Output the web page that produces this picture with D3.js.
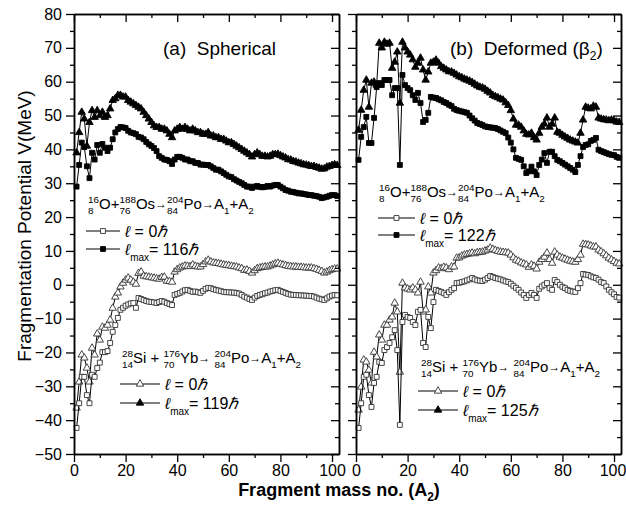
<!DOCTYPE html>
<html><head><meta charset="utf-8">
<script src="https://cdn.jsdelivr.net/npm/d3@7"></script>
<style>body{margin:0;background:#fff} text{font-family:"Liberation Sans",Arial,sans-serif;fill:#000}</style>
</head><body><svg id="c" width="626" height="507"></svg>
<script>
// ---------------- DATA ----------------
const masses = [1,2,3,4,5,6,7,8,9,10,11,12,13,14,15,16,17,18,19,20,21,22,23,24,25,26,27,28,29,30,31,32,33,34,35,36,37,38,39,40,41,42,43,44,45,46,47,48,49,50,51,52,53,54,55,56,57,58,59,60,61,62,63,64,65,66,67,68,69,70,71,72,73,74,75,76,77,78,79,80,81,82,83,84,85,86,87,88,89,90,91,92,93,94,95,96,97,98,99,100,101,102];

// (a) Spherical
const sphSiYbLmax = [39,45,51,49,41,48,51.5,49.5,51.5,50,51,49.5,50,52,54.5,55,56,56,55.5,55.5,54.5,54,53.5,53,52.5,52,51,50,49,48,47,46.5,46.5,46,46,45.5,44.5,43.5,45.5,46,46.5,46,46.5,46,45.5,46,45.5,45,45,44.5,44.5,45,44,44,43.5,43.5,43,43,42.5,42,42,41.5,41,40.5,40,39.5,39,38.5,37.8,38.5,39,38.5,38,38,37.8,38,38.5,38.5,38.6,38.2,37.8,37.5,37,36.9,36.5,36.3,36,35.8,35.5,35.4,35.2,35,35,34.7,34.5,34.2,34.3,34.8,35,35.3,35.5,35.3];
const sphOOsLmax = [29,35.4,42,40.7,35,31.5,39,37,41.3,39,41.6,40.5,39.5,40.5,43,45,46,46.6,46.5,46.3,45.5,45,44.8,44.5,43.7,43.5,43,42.2,41.5,41,40.4,39.5,38,37.5,37,36.9,36.5,35.7,37,37.8,37.8,37.5,37,37,36.5,36.5,36,36,35.5,35.5,35.4,35.4,35,34.5,34,34,33.5,33,32.5,32,31.8,31.2,30.8,30.4,30,29.5,29,29,28.6,29,29.2,28.9,28.8,28.9,29.2,29,29.3,29.5,29.5,29,28.5,28,27.8,27.5,27.4,27.2,27,27,26.8,26.7,26.5,26.5,26.3,26.2,26,25.6,25.8,26,26.3,26.5,26.5,26.2];
const sphSiYbL0 = [-36.4,-28.7,-20.7,-21.6,-24.6,-28.7,-18.7,-20.7,-14.5,-16.3,-12.5,-12.8,-11.9,-10.4,-6.9,-3.6,-2.4,-0.6,0.5,1.4,2,1.4,0.8,0.2,3.4,3.8,2.6,2.4,2.3,2.1,2,1.8,1.7,2.2,2.3,1.1,1,0.8,3.8,4.5,5,5.3,5.6,5.5,5.4,5.9,5.5,5.3,5.3,6,6.8,7.3,6.8,6.5,6.4,6.3,6.1,5.9,5.8,5.7,5.5,5.4,5.3,5,4.8,4.3,4.4,4,3.5,4.2,4.8,5,5.2,5.3,5.3,5.6,5.9,6.2,6.4,6.1,5.9,5.7,5.5,5.4,5.3,5.3,5.2,5.2,5.1,5,5,5,4.8,4.6,4.3,4,3.5,3.8,4.2,4.5,4.7,4.7];
const sphOOsL0 = [-42.3,-35,-27.2,-27.2,-32.6,-35,-26.6,-27.2,-24.6,-23,-19.9,-19.9,-19.6,-17.2,-13.9,-11.9,-9.8,-7.4,-6.8,-6.2,-5.8,-5.5,-5.4,-6.8,-3.9,-4.2,-4.5,-4.8,-5,-5.1,-5.2,-5.4,-5.1,-4.8,-5,-5.4,-5.7,-6,-3,-2.7,-2.4,-2,-1.6,-1.5,-1.8,-2.1,-2,-2.2,-2.4,-1.8,-1.2,-0.9,-1,-1.3,-1.5,-1.7,-1.9,-2.1,-2.2,-2.2,-2.3,-2.3,-2.4,-2.6,-3,-3.5,-3.8,-4.2,-4.5,-3.8,-3.3,-3,-2.8,-2.5,-2.3,-2,-1.8,-1.6,-1.5,-1.8,-2.1,-2.4,-2.7,-2.9,-3,-3,-3.1,-3.1,-3.2,-3.2,-3.3,-3.3,-3.5,-3.8,-4.1,-4.3,-4.5,-4,-3.5,-3.2,-3,-3.1];

// (b) Deformed
const defSiYbLmax = [45.7,51.6,57.5,60.5,52.5,59.6,59.9,59,71.4,70,71.7,71.1,71.4,64,65.8,68.8,53.7,71.7,70,68.8,67.9,66.5,64.3,65.5,67,63.5,60.5,62.9,65.5,65.8,66.4,65.5,64.5,64,63.5,63,62.9,62.5,62,61.5,61.2,60.8,60.5,60.2,59.8,59.3,58.8,58.4,58.2,57.8,57.2,56.7,56,55.6,55.3,54.9,54.6,53.8,53,51.5,49,47.2,47.2,46.6,45.5,44.5,44.3,44.8,43.5,42.8,44.8,46.6,47.5,49.3,46.6,47.5,49.3,45.1,44.8,44.2,43.7,43.3,42.8,42.5,42.2,41.9,44.8,48.7,52.5,52.2,52,52.8,52.5,49.3,49,48.8,48.7,48.5,48.7,48.5,48.1,48];
const defOOsLmax = [36.9,43.7,46.6,49.6,41.9,41.9,49.3,58.4,59.6,59,60.5,60.5,60.5,56,58.1,58.1,35.4,62,59,58.1,57.5,56,54.6,56.7,53.7,48.1,48.7,50.8,55.5,55.3,55.2,54.8,54.5,54,53.7,53.2,52.8,52,51.6,51.4,51.2,51,50.8,50,49.2,48.5,47.8,47.5,47.2,46.8,46.6,46.5,46.4,46.3,46,45.6,45.2,44.8,43.5,42,40,37.5,37.2,36.9,35,33,33.5,34.9,33.5,32.4,35.4,37,38.9,36,39.3,39.3,38,36.9,36.5,36,35.5,35,34.5,34,33.3,35.4,38,40.7,41.3,41.5,42.5,42.8,43.4,39.9,39.5,39.2,38.9,38.6,38.4,38.3,37.8,37.5];
const defSiYbL0 = [-37,-30.2,-22.2,-22.8,-25.2,-29,-19.9,-21.3,-14.8,-16.3,-11.9,-11.9,-10.4,-9.5,-5.4,-8,-25.8,0.5,-0.9,-1.2,-1.5,-0.9,-1.5,-2.4,0.8,-8,-7.4,-0.6,-2.4,3.5,4.2,5,4.8,5.2,5,4.5,5.3,5.3,7.9,8,8.5,8.8,9,9.2,9.4,9.2,9.5,9.6,9.7,10,10.3,10.9,10.5,10.2,9.9,9.7,9.6,9.5,9.4,8.8,8,7.3,7,6.5,6.2,5.9,5.2,5.9,5.5,4.7,6.7,7.5,8.2,9.4,7.5,6.4,9.7,8.8,8.2,7.9,7.6,7.3,7,6.8,6.7,7.5,8.8,12,11.9,11.8,11.5,11.2,11.2,10.3,9.8,9.2,8.6,7.9,7.4,6.9,6.4,6.2];
const defOOsL0 = [-42.3,-35,-27.2,-26.6,-32.6,-36.1,-29,-27.2,-22.8,-23.1,-19.3,-18.4,-17.2,-15.5,-13.4,-19.3,-41.4,-11,-8.9,-9.5,-9.8,-11,-11.9,-8,-7.4,-17.2,-18.4,-9.5,-12.8,-5.1,-1.5,-1.8,-2.1,-2.5,-3,-2.2,-1.5,-1,0.5,0.6,0.8,1,1.3,1.6,2,1.6,1.3,1.2,1.1,1.5,2,2.6,2.3,2,1.8,1.6,1.3,1,0.8,0.3,-0.3,-0.9,-1.5,-2.3,-3,-3.9,-3,-2.4,-3,-3.9,-1.2,-0.5,0,0.5,-1,-1.5,1.4,0.8,0,-0.6,-1,-1.5,-1.8,-2,-2.1,-1,0.5,3.2,3,2.9,2.5,2.2,2,1.5,0.8,0.5,-0.5,-1.5,-2.2,-2.8,-3.6,-3.8];

const xMajorTicks = [0,20,40,60,80,100];
const xMinorTicks = [10,30,50,70,90];
const yMajorTicks = [-50,-40,-30,-20,-10,0,10,20,30,40,50,60,70,80];
const yMinorTicks = [-45,-35,-25,-15,-5,5,15,25,35,45,55,65,75];
const xDomain = [0,102.7];
const yDomain = [-50,80];

// ---------------- DRAW ----------------
const NB = '\u00A0';
const svg = d3.select('#c');
svg.append('rect').attr('width',626).attr('height',507).attr('fill','#fff');
const TOP=14, BOT=454;
const y = d3.scaleLinear().domain(yDomain).range([BOT,TOP]);
const TICKFS = 16;

const panels = [
  {x0:74, x1:339, labels:true,
   series:[
     {v:sphSiYbLmax, sym:d3.symbolTriangle, filled:true},
     {v:sphOOsLmax, sym:d3.symbolSquare, filled:true},
     {v:sphSiYbL0, sym:d3.symbolTriangle, filled:false},
     {v:sphOOsL0, sym:d3.symbolSquare, filled:false}]},
  {x0:356, x1:621, labels:false,
   series:[
     {v:defSiYbLmax, sym:d3.symbolTriangle, filled:true},
     {v:defOOsLmax, sym:d3.symbolSquare, filled:true},
     {v:defSiYbL0, sym:d3.symbolTriangle, filled:false},
     {v:defOOsL0, sym:d3.symbolSquare, filled:false}]}
];

function styleAxis(g){
  g.selectAll('.domain').attr('stroke','#000').attr('stroke-width',1.5);
  g.selectAll('.tick line').attr('stroke','#000').attr('stroke-width',1.3);
  g.selectAll('.tick text').attr('font-size',TICKFS).attr('font-family','"Liberation Sans",Arial,sans-serif').attr('fill','#000');
}

panels.forEach((p,pi)=>{
  const x = d3.scaleLinear().domain(xDomain).range([p.x0,p.x1]);
  const g = svg.append('g');
  p.series.forEach(s=>{
    g.append('path').datum(s.v)
      .attr('d', d3.line().x((d,j)=>x(masses[j])).y(d=>y(d)))
      .attr('fill','none').attr('stroke','#000').attr('stroke-width',1);
    g.selectAll(null).data(s.v).enter().append('path')
      .attr('transform',(d,j)=>`translate(${x(masses[j])},${y(d)})`)
      .attr('d', d3.symbol(s.sym, 24)())
      .attr('fill', s.filled?'#000':'#fff')
      .attr('stroke', s.filled?'#000':'#333').attr('stroke-width',0.9);
  });
  const bMaj = g.append('g').attr('transform',`translate(0,${BOT})`)
    .call(d3.axisBottom(x).tickValues(xMajorTicks).tickSizeInner(8).tickSizeOuter(0).tickPadding(3).tickFormat(d3.format('d')));
  styleAxis(bMaj);
  if(pi===1) bMaj.selectAll('.tick text').filter(d=>d===100).attr('dx',-1.5);
  const bMin = g.append('g').attr('transform',`translate(0,${BOT})`)
    .call(d3.axisBottom(x).tickValues(xMinorTicks).tickSizeInner(4).tickSizeOuter(0).tickFormat(''));
  styleAxis(bMin);
  [[xMajorTicks,8],[xMinorTicks,4]].forEach(([tv,len])=>{
    const a = g.append('g').attr('transform',`translate(0,${TOP})`)
      .call(d3.axisTop(x).tickValues(tv).tickSizeInner(-len).tickSizeOuter(0).tickFormat(''));
    styleAxis(a);
  });
  const lMaj = g.append('g').attr('transform',`translate(${p.x0},0)`)
    .call(d3.axisLeft(y).tickValues(yMajorTicks).tickSizeInner(8).tickSizeOuter(0).tickPadding(4).tickFormat(p.labels?d3.format('d'):''));
  styleAxis(lMaj);
  const lMin = g.append('g').attr('transform',`translate(${p.x0},0)`)
    .call(d3.axisLeft(y).tickValues(yMinorTicks).tickSizeInner(4).tickSizeOuter(0).tickFormat(''));
  styleAxis(lMin);
  [[yMajorTicks,8],[yMinorTicks,4]].forEach(([tv,len])=>{
    const a = g.append('g').attr('transform',`translate(${p.x1},0)`)
      .call(d3.axisRight(y).tickValues(tv).tickSizeInner(-len).tickSizeOuter(0).tickFormat(''));
    styleAxis(a);
  });
});

// ---------- text helpers ----------
function addText(g, x, yb, str, fs, opts={}){
  const t = g.append('text').attr('x',x).attr('y',yb).attr('font-size',fs).text(str);
  if(opts.italic) t.attr('font-style','italic');
  if(opts.bold) t.attr('font-weight','bold');
  return x + t.node().getComputedTextLength();
}
function nuclide(g, x, yb, A, Z, sym, fs){
  const sf = fs*0.66;
  const w1 = addText(g, x, yb - fs*0.42, A, sf) - x;
  const w2 = addText(g, x, yb + fs*0.32, Z, sf) - x;
  return addText(g, x + Math.max(w1,w2), yb, sym, fs);
}
function reaction(g, x, yb, fs, parts){
  let cx = x;
  parts.forEach(pt=>{
    if(pt.nuc) cx = nuclide(g, cx, yb, pt.nuc[0], pt.nuc[1], pt.nuc[2], fs);
    else if(pt.arrow) cx = addText(g, cx, yb-1, '→', fs*0.8);
    else if(pt.sub) cx = addText(g, cx, yb + fs*0.3, pt.sub, fs*0.66);
    else cx = addText(g, cx, yb, pt.txt, fs);
  });
}
function legendRow(g, x1, x2, yc, sym, filled, lmax, value){
  g.append('line').attr('x1',x1).attr('x2',x2).attr('y1',yc).attr('y2',yc).attr('stroke','#000').attr('stroke-width',1);
  g.append('path').attr('transform',`translate(${(x1+x2)/2},${yc})`)
    .attr('d', d3.symbol(sym, 24)()).attr('fill', filled?'#000':'#fff').attr('stroke',filled?'#000':'#333').attr('stroke-width',0.9);
  const fs = 16;
  let cx = x2 + 5;
  cx = addText(g, cx, yc+6, 'ℓ', fs, {italic:true});
  if(lmax){ cx = addText(g, cx, yc+12, 'max', 10); }
  cx = addText(g, cx, yc+6, (lmax?'=':NB+'=') + NB + value, fs);
  addText(g, cx, yc+6, 'ℏ', fs, {italic:true});
}

const tg = svg.append('g');
{
  tg.append('text').attr('x',163).attr('y',55).attr('font-size',19).text('(a)'+NB+NB+'Spherical');
  const t2 = tg.append('text').attr('x',450).attr('y',55).attr('font-size',19);
  t2.append('tspan').text('(b)'+NB+NB+'Deformed'+NB+'(β');
  t2.append('tspan').attr('font-size',12).attr('dy',5).text('2');
  t2.append('tspan').attr('dy',-5).text(')');
}
const oOs = [{nuc:['16','8','O']},{txt:'+'},{nuc:['188','76','Os']},{arrow:true},{nuc:['204','84','Po']},{arrow:true},{txt:'A'},{sub:'1'},{txt:'+A'},{sub:'2'}];
const siYb = [{nuc:['28','14','Si']},{txt:NB+'+'+NB},{nuc:['176','70','Yb']},{arrow:true},{txt:NB},{nuc:['204','84','Po']},{arrow:true},{txt:'A'},{sub:'1'},{txt:'+A'},{sub:'2'}];

reaction(tg, 88, 209, 15, oOs);
legendRow(tg, 86, 120, 231, d3.symbolSquare, false, false, '0');
legendRow(tg, 86, 120, 249, d3.symbolSquare, true, true, '116');

reaction(tg, 122, 363, 15, siYb);
legendRow(tg, 120, 160, 384, d3.symbolTriangle, false, false, '0');
legendRow(tg, 120, 160, 403, d3.symbolTriangle, true, true, '119');

reaction(tg, 379, 197, 15, oOs);
legendRow(tg, 378, 415, 218, d3.symbolSquare, false, false, '0');
legendRow(tg, 378, 415, 235, d3.symbolSquare, true, true, '122');

reaction(tg, 421, 372, 15, siYb);
legendRow(tg, 418, 458, 391, d3.symbolTriangle, false, false, '0');
legendRow(tg, 418, 458, 410, d3.symbolTriangle, true, true, '125');

tg.append('text').attr('transform','translate(31,226) rotate(-90)').attr('text-anchor','middle')
  .attr('font-size',19).text('Fragmentation Potential V(MeV)');
{
  const t = tg.append('text').attr('x',339).attr('y',496).attr('text-anchor','middle').attr('font-size',18).attr('font-weight','bold');
  t.append('tspan').text('Fragment mass no. (A');
  t.append('tspan').attr('font-size',12).attr('dy',5).text('2');
  t.append('tspan').attr('dy',-5).text(')');
}
</script></body></html>
